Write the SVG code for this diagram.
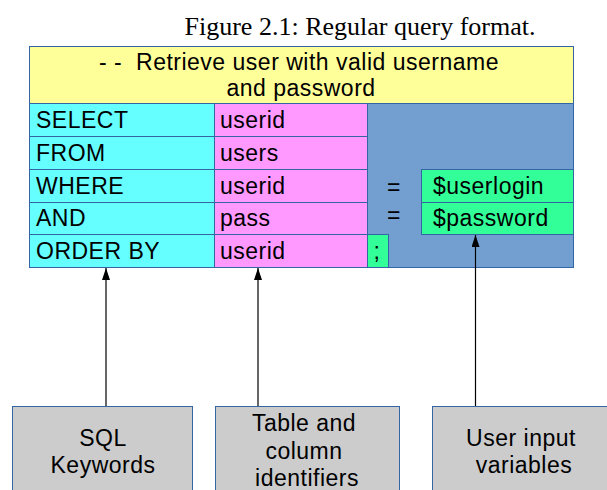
<svg xmlns="http://www.w3.org/2000/svg" width="607" height="490" viewBox="0 0 607 490">
  <defs>
    <marker id="arrow" viewBox="0 0 12 8" refX="12" refY="4" markerWidth="12" markerHeight="8" markerUnits="userSpaceOnUse" orient="auto">
      <path d="M0,0 L12,4 L0,8 Z" fill="#000"/>
    </marker>
    <style>
      .cell { stroke: #3465a4; stroke-width: 1; }
      .yellow { fill: #ffff99; }
      .cyan { fill: #66ffff; }
      .pink { fill: #ff99ff; }
      .blue { fill: #729fcf; }
      .green { fill: #33ff99; }
      .grey { fill: #cccccc; }
      text { font-family: "Liberation Sans", Arial, sans-serif; fill: #000; }
      .t { font-size: 23px; letter-spacing: 0.5px; }
      .c { text-anchor: middle; }
      .title { font-family: "Liberation Serif", "Times New Roman", serif; font-size: 26px; text-anchor: middle; }
      .conn { stroke: #000; stroke-width: 1.2; fill: none; }
    </style>
  </defs>

  <rect width="607" height="490" fill="#fff"/>

  <text class="title" x="360" y="35">Figure 2.1: Regular query format.</text>

  <!-- query table -->
  <g id="query">
    <rect class="cell blue" x="367.5" y="103.5" width="206" height="164"/>
    <rect class="cell yellow" x="29.5" y="46.5" width="544" height="57"/>
    <text class="t c" x="299" y="70" xml:space="preserve">- -  Retrieve user with valid username</text>
    <text class="t c" x="301" y="96">and password</text>
  </g>

  <g id="keywords">
    <rect class="cell cyan" x="29.5" y="103.5" width="185" height="33"/>
    <rect class="cell cyan" x="29.5" y="136.5" width="185" height="33"/>
    <rect class="cell cyan" x="29.5" y="169.5" width="185" height="33"/>
    <rect class="cell cyan" x="29.5" y="202.5" width="185" height="32"/>
    <rect class="cell cyan" x="29.5" y="234.5" width="185" height="33"/>
    <text class="t" x="36" y="128">SELECT</text>
    <text class="t" x="36" y="161">FROM</text>
    <text class="t" x="36" y="194">WHERE</text>
    <text class="t" x="36" y="226">AND</text>
    <text class="t" x="36" y="259">ORDER BY</text>
  </g>

  <g id="identifiers">
    <rect class="cell pink" x="214.5" y="103.5" width="153" height="33"/>
    <rect class="cell pink" x="214.5" y="136.5" width="153" height="33"/>
    <rect class="cell pink" x="214.5" y="169.5" width="153" height="33"/>
    <rect class="cell pink" x="214.5" y="202.5" width="153" height="32"/>
    <rect class="cell pink" x="214.5" y="234.5" width="153" height="33"/>
    <text class="t" x="220" y="128">userid</text>
    <text class="t" x="220" y="161">users</text>
    <text class="t" x="220" y="194">userid</text>
    <text class="t" x="220" y="226">pass</text>
    <text class="t" x="220" y="259">userid</text>
  </g>

  <g id="operators">
    <text class="t c" x="394" y="195">=</text>
    <text class="t c" x="394" y="223">=</text>
    <rect class="cell green" x="367.5" y="234.5" width="21" height="33"/>
    <text class="t c" x="377" y="259">;</text>
  </g>

  <g id="variables">
    <rect class="cell green" x="421.5" y="169.5" width="152" height="33"/>
    <rect class="cell green" x="421.5" y="202.5" width="152" height="32"/>
    <text class="t" x="433" y="194">$userlogin</text>
    <text class="t" x="433" y="226">$password</text>
  </g>

  <!-- legend boxes -->
  <g id="sql-keywords">
    <rect class="cell grey" x="12.5" y="406.5" width="180" height="90"/>
    <text class="t c" x="103" y="446">SQL</text>
    <text class="t c" x="103" y="473">Keywords</text>
  </g>
  <g id="table-column">
    <rect class="cell grey" x="215.5" y="406.5" width="184" height="90"/>
    <text class="t c" x="304" y="431">Table and</text>
    <text class="t c" x="304" y="459">column</text>
    <text class="t c" x="307" y="486">identifiers</text>
  </g>
  <g id="user-input">
    <rect class="cell grey" x="432.5" y="406.5" width="180" height="90"/>
    <text class="t c" x="521" y="446">User input</text>
    <text class="t c" x="524" y="473">variables</text>
  </g>

  <!-- connectors -->
  <g id="connectors">
    <line class="conn" x1="106" y1="406" x2="106" y2="268" marker-end="url(#arrow)"/>
    <line class="conn" x1="258" y1="406" x2="258" y2="268" marker-end="url(#arrow)"/>
    <line class="conn" x1="475.5" y1="406" x2="475.5" y2="235" marker-end="url(#arrow)"/>
  </g>
</svg>
